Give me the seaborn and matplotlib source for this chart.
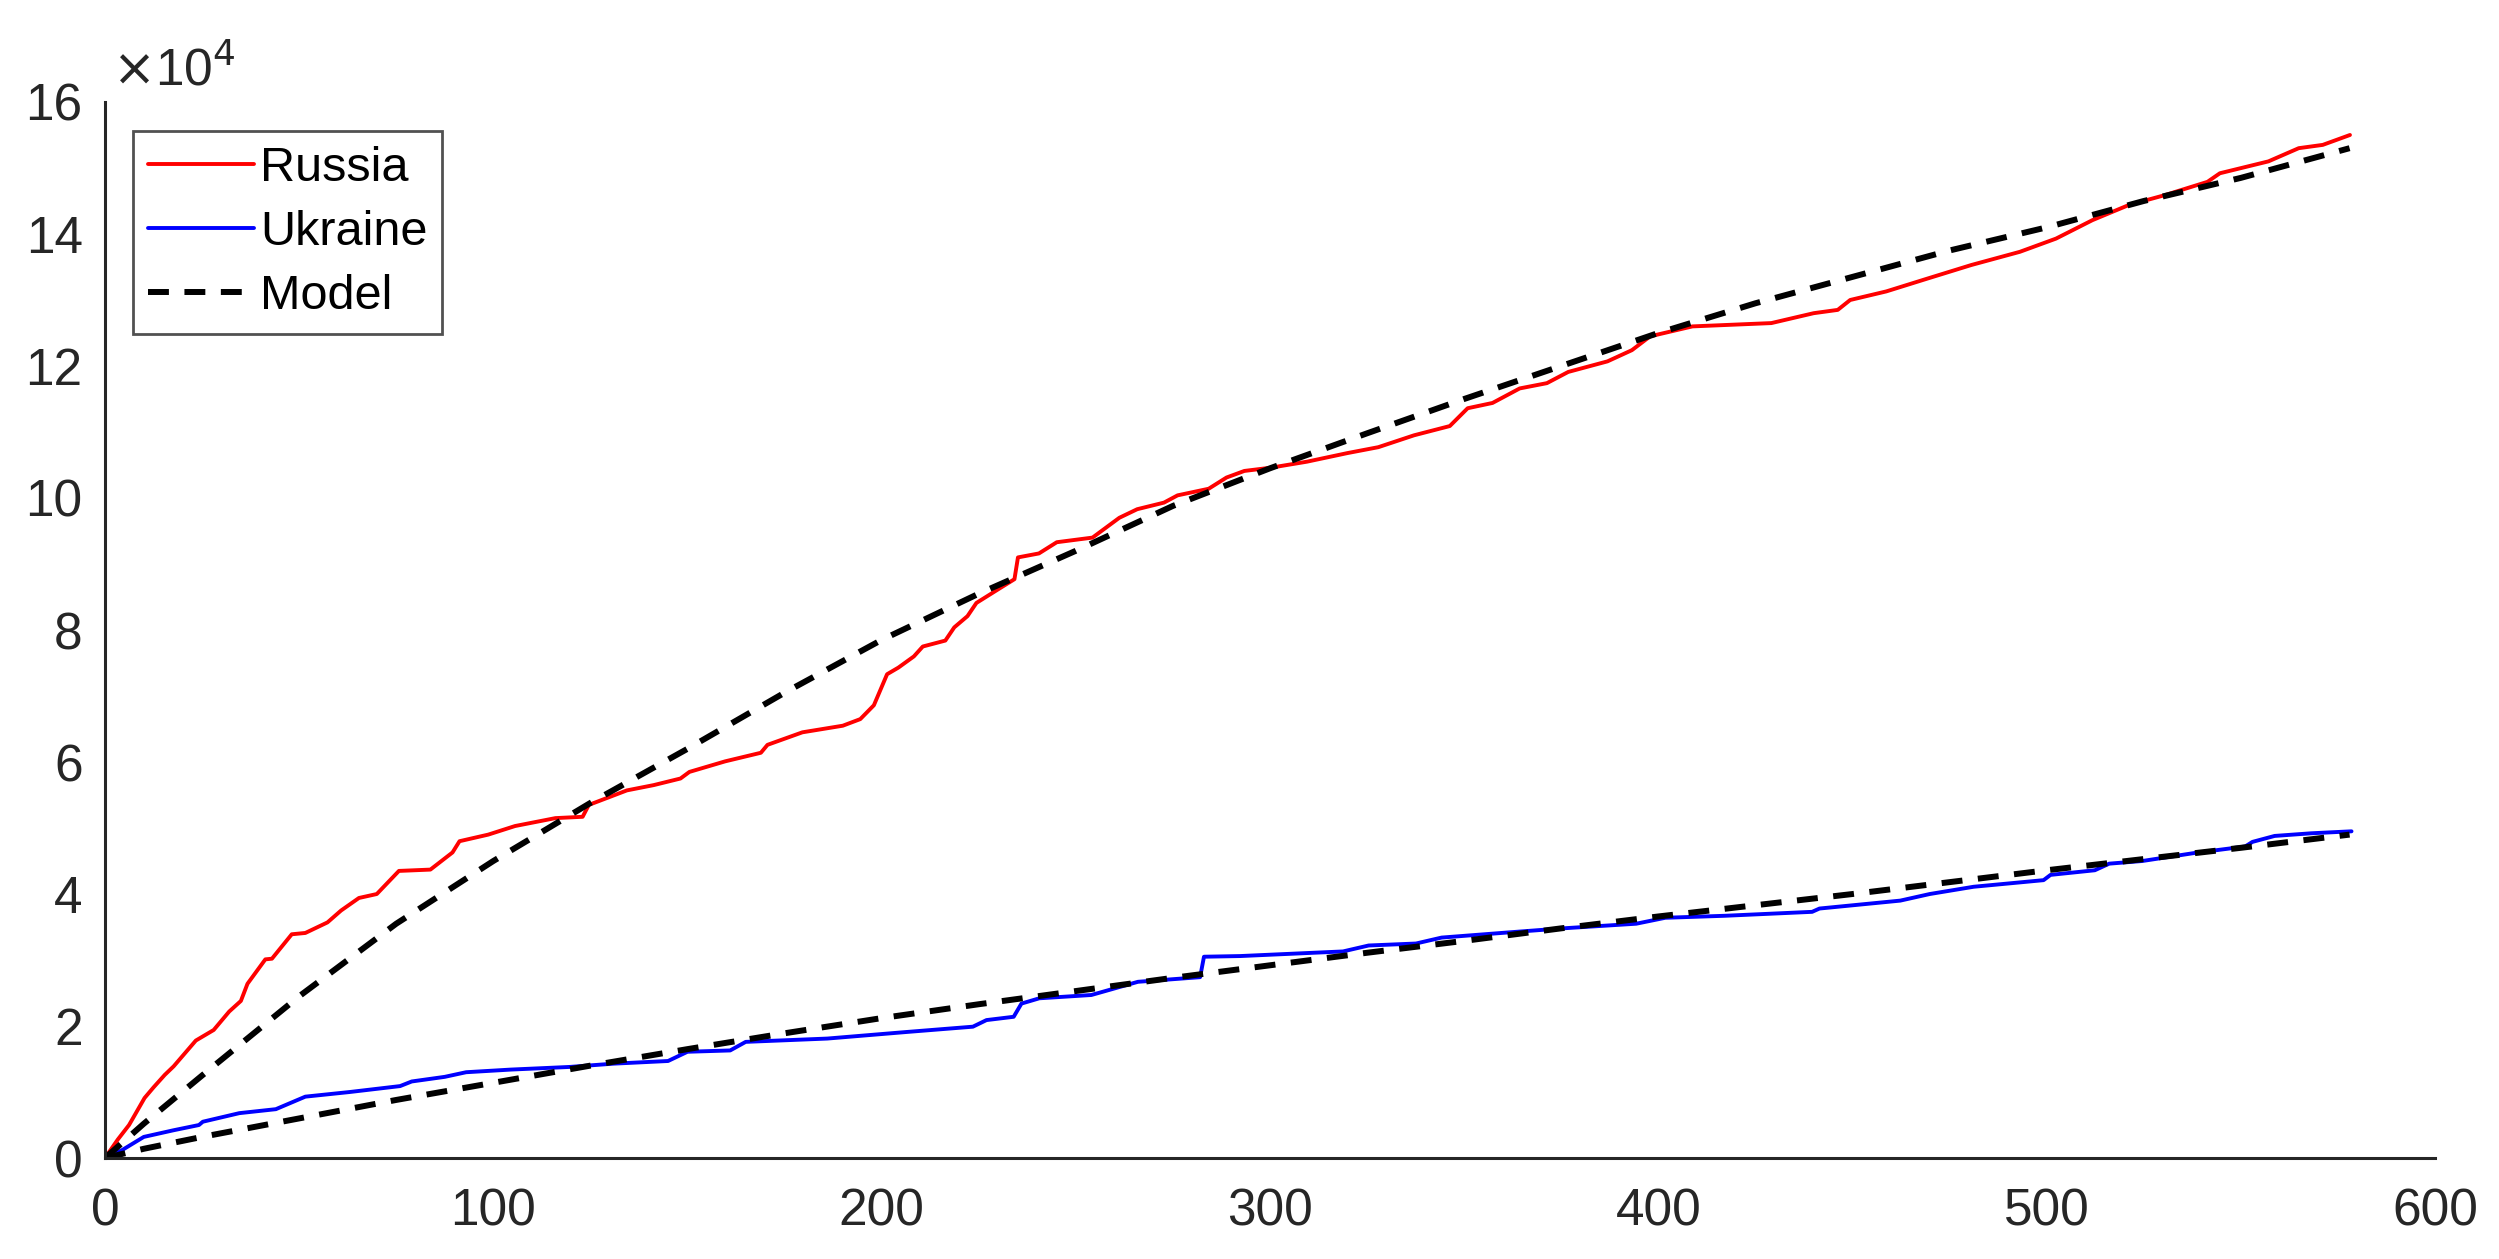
import matplotlib
matplotlib.use('Agg')
import matplotlib.pyplot as plt
from matplotlib.ticker import FuncFormatter
import numpy as np
import pandas as pd
import seaborn as sns

# cumulative losses, values in units of 1e4
russia_day = [0, 3.3, 6.2, 10.2, 12.5, 15.4, 17.7, 23.4, 28, 32, 35, 36.7, 41.3, 43, 48.1,
              51.6, 57.3, 60.8, 65.4, 70, 75.7, 83.8, 89.5, 91.3, 98.7, 105.6, 116, 123,
              124.6, 134.4, 141.3, 148.2, 150.5, 159.7, 168.9, 170.6, 179.6, 190, 194.5,
              198, 201.4, 204.3, 208.3, 210.6, 216.4, 218.7, 222.1, 224.4, 230.1, 234.2,
              235.1, 240.5, 245.1, 254.3, 261.2, 265.8, 272.7, 276.2, 284.2, 288.8, 293.4,
              300.3, 309.5, 319.9, 327.9, 337.1, 346.3, 350.9, 357.3, 364.3, 371.3, 376.8,
              386.9, 393.2, 397.9, 408.8, 429.1, 440, 446.2, 449.4, 458.7, 469.6, 480.6,
              493.1, 502.4, 511.8, 521.2, 530.5, 541.4, 544.6, 557.1, 564.9, 571.1, 578.1]
russia_val = [0, 0.28, 0.50, 0.91, 1.07, 1.26, 1.39, 1.78, 1.94, 2.22, 2.38, 2.64, 3.01, 3.02,
              3.39, 3.41, 3.57, 3.75, 3.94, 4.0, 4.35, 4.37, 4.63, 4.80, 4.90, 5.03, 5.15,
              5.17, 5.35, 5.57, 5.65, 5.75, 5.85, 6.01, 6.14, 6.26, 6.45, 6.55, 6.65, 6.86,
              7.33, 7.43, 7.60, 7.75, 7.84, 8.04, 8.21, 8.41, 8.62, 8.77, 9.10, 9.16, 9.33,
              9.40, 9.70, 9.83, 9.93, 10.04, 10.14, 10.31, 10.41, 10.46, 10.55, 10.68, 10.77,
              10.95, 11.09, 11.36, 11.44, 11.66, 11.74, 11.91, 12.07, 12.24, 12.45, 12.60,
              12.65, 12.80, 12.85, 13.0, 13.13, 13.33, 13.53, 13.73, 13.93, 14.21, 14.44,
              14.59, 14.79, 14.92, 15.10, 15.30, 15.35, 15.50]

ukraine_day = [0, 4.4, 10, 17.6, 24.2, 25.2, 34.6, 44, 51.6, 63, 76, 79, 87.5, 93, 104.5,
               119.6, 131, 145, 150, 161, 165, 186, 206.5, 223.5, 227, 234, 236, 240.6, 254,
               266, 282, 283, 292.3, 318.8, 325.4, 337.6, 344.2, 364, 375.4, 394.3, 401.8,
               417, 439.6, 441.5, 462.3, 469.9, 481.2, 499.2, 501, 512.4, 516.1, 524.6,
               537.9, 551.1, 553, 558.7, 568.1, 578.5]
ukraine_val = [0, 0.12, 0.32, 0.42, 0.50, 0.55, 0.68, 0.74, 0.93, 1.0, 1.09, 1.16, 1.23, 1.3,
               1.34, 1.38, 1.43, 1.47, 1.61, 1.63, 1.76, 1.81, 1.91, 1.99, 2.09, 2.14, 2.34,
               2.42, 2.47, 2.67, 2.74, 3.05, 3.06, 3.13, 3.22, 3.25, 3.34, 3.43, 3.48, 3.55,
               3.64, 3.67, 3.73, 3.78, 3.90, 4.0, 4.11, 4.21, 4.29, 4.36, 4.46, 4.50, 4.62,
               4.72, 4.79, 4.88, 4.92, 4.95]

model_day = [0, 10, 25, 50, 75, 100, 125, 150, 175, 200, 225, 250, 275, 300, 325, 350,
             375, 400, 425, 450, 475, 500, 525, 550, 578]
model_russia = [0, 0.52, 1.25, 2.45, 3.55, 4.5, 5.38, 6.2, 7.05, 7.85, 8.55, 9.2, 9.88, 10.45,
                10.98, 11.5, 12.0, 12.5, 12.95, 13.35, 13.75, 14.1, 14.5, 14.85, 15.3]
model_ukraine = [0, 0.14, 0.32, 0.6, 0.88, 1.14, 1.4, 1.65, 1.89, 2.12, 2.33, 2.53, 2.73, 2.92,
                 3.11, 3.29, 3.48, 3.66, 3.83, 4.0, 4.18, 4.36, 4.53, 4.70, 4.9]

scale = 1e4

sns.set_style('white')
plt.rcParams['font.family'] = ['Liberation Sans', 'DejaVu Sans']

dark = '#262626'

fig = plt.figure(figsize=(24.99, 12.59), dpi=100)
ax = fig.add_axes([0.042, 0.0802, 0.9324, 0.8388])

sns.lineplot(x=russia_day, y=np.array(russia_val) * scale, ax=ax, color='#ff0000',
             linewidth=2.8, estimator=None, sort=False, label='Russia')
sns.lineplot(x=ukraine_day, y=np.array(ukraine_val) * scale, ax=ax, color='#0000ff',
             linewidth=2.8, estimator=None, sort=False, label='Ukraine')
sns.lineplot(x=model_day, y=np.array(model_russia) * scale, ax=ax, color='black',
             linewidth=4.3, estimator=None, sort=False, label='Model')
sns.lineplot(x=model_day, y=np.array(model_ukraine) * scale, ax=ax, color='black',
             linewidth=4.3, estimator=None, sort=False, label='_nolegend_')
for ln in ax.lines[2:4]:
    ln.set_dashes((3.5, 2.6))

ax.set_xlim(0, 600)
ax.set_ylim(0, 16e4)
ax.set_xticks(range(0, 601, 100))
ax.set_yticks(np.arange(0, 16.1e4, 2e4))
ax.yaxis.set_major_formatter(FuncFormatter(lambda v, p: f'{v / scale:g}'))

for side in ['top', 'right']:
    ax.spines[side].set_visible(False)
for side in ['left', 'bottom']:
    ax.spines[side].set_linewidth(2.2)
    ax.spines[side].set_color(dark)

ax.tick_params(axis='both', direction='in', length=17, width=2.2, color=dark,
               labelcolor=dark, labelsize=37)
ax.tick_params(axis='y', pad=16)
ax.tick_params(axis='x', pad=21)

ax.annotate(r'$\times$10$^{4}$', xy=(0, 1), xycoords='axes fraction',
            xytext=(5, 4), textcoords='offset points', fontsize=37, color=dark,
            ha='left', va='bottom')

leg = ax.legend(loc='upper left', bbox_to_anchor=(0.012, 0.9725), borderaxespad=0,
                fontsize=35, frameon=True, fancybox=False, handlelength=2.2,
                handletextpad=0.12, labelspacing=0.4, borderpad=0.3)
leg.get_frame().set_edgecolor(dark)
leg.get_frame().set_linewidth(2)
for t in leg.get_texts():
    t.set_color('black')

ax.set_xlabel('')
ax.set_ylabel('')
fig.savefig('out.png', dpi=100)
